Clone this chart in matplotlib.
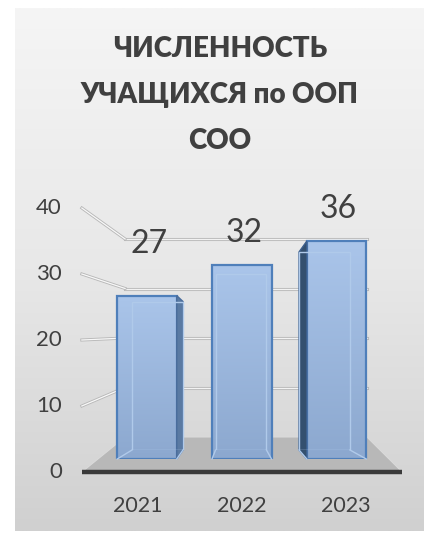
import numpy as np
import matplotlib
matplotlib.use('Agg')
import matplotlib.pyplot as plt
from matplotlib.patches import Polygon
from matplotlib.colors import LinearSegmentedColormap
from matplotlib.transforms import IdentityTransform, ScaledTranslation

plt.rcParams['font.family'] = ['Lato', 'DejaVu Sans']

# data
years = ['2021', '2022', '2023']
students = [27, 32, 36]
yticks = [0, 10, 20, 30, 40]
title = 'ЧИСЛЕННОСТЬ\nУЧАЩИХСЯ по ООП\nСОО'

W, H = 424, 533
fig = plt.figure(figsize=(W / 100, H / 100), dpi=100)
fig.patch.set_facecolor('white')

# background gradient
bg = fig.add_axes([0, 0, 1, 1])
bg.set_xlim(0, W)
bg.set_ylim(H, 0)
bg.axis('off')
grad = np.linspace(0, 1, 256)[:, None]
bg.imshow(grad, cmap=LinearSegmentedColormap.from_list('g', ['#f5f5f5', '#e8e8e8', '#d0d0d0']),
          extent=(15, W, 531, 8), aspect='auto', zorder=0)


# one "depth plane" of the 3d chart: zero line (px from top), px per unit, x centre, x spacing
def plane(zero_y, scale, xc, spacing, half=1.55, z=1):
    left = xc - half * spacing
    ax = fig.add_axes([left / W, 1 - zero_y / H, 2 * half * spacing / W, 40 * scale / H], zorder=z)
    ax.set_xlim(1 - half, 1 + half)
    ax.set_ylim(0, 40)
    ax.patch.set_visible(False)
    for s in ax.spines.values():
        s.set_visible(False)
    ax.set_xticks([])
    ax.set_yticks([])
    return ax


def disp(ax, x, y):
    return ax.transData.transform((x, y))


back = plane(437, 4.95, 246, 78, half=1.55, z=1)
front = plane(472, 6.6, 242, 104, half=1.54, z=2)
bar_back = plane(450, 5.5, 241, 83.5, z=3)
bar_front = plane(459, 6.05, 241.75, 94.75, z=4)
bar_edges = plane(450, 5.5, 241, 83.5, z=5)

# floor
fl = [disp(front, 1 - 1.54, 0), disp(front, 1 + 1.54, 0), disp(back, 1 + 1.55, 0), disp(back, 1 - 1.55, 0)]
fig.add_artist(Polygon(fl, closed=True, facecolor='#b8b8b8', edgecolor='#dadada', lw=0.8,
                       transform=IdentityTransform(), zorder=1.5))
front.plot([1 - 1.54, 1 + 1.54], [0, 0], color='#3a3a3a', lw=3.2, solid_capstyle='butt', clip_on=False)

# back wall gridlines and left wall gridlines
for v in yticks[1:]:
    back.plot([1 - 1.55, 1 + 1.55], [v, v], color='#b8b8b8', lw=2.2, clip_on=False)
    back.plot([1 - 1.55, 1 + 1.55], [v, v], color='#f2f2f2', lw=0.9, clip_on=False)
    p0 = disp(front, 1 - 1.54, v)
    p1 = disp(back, 1 - 1.55, v)
    for c, lw in (('#b8b8b8', 2.2), ('#f8f8f8', 0.9)):
        fig.add_artist(plt.Line2D([p0[0], p1[0]], [p0[1], p1[1]], color=c, lw=lw,
                                  transform=IdentityTransform(), zorder=1.6))

# bars
x = np.arange(len(years))
wf, wb = 0.628, 0.61
bar_cmap = LinearSegmentedColormap.from_list('b', ['#aac5ea', '#8ca8cf'])
bars = bar_front.bar(x, students, width=wf, color='none', edgecolor='#4f7fba', lw=1.6, zorder=3)
for b in bars:
    im = bar_front.imshow(grad, cmap=bar_cmap, aspect='auto', zorder=2,
                          extent=(b.get_x(), b.get_x() + b.get_width(), 0, b.get_height()))
    im.set_clip_path(b)
bar_front.set_xlim(1 - 1.55, 1 + 1.55)
bar_front.set_ylim(0, 40)
bar_edges.bar(x, students, width=wb, fill=False, edgecolor='#b0caea', lw=1.0)
for i, v in enumerate(students):
    fbl = disp(bar_front, i - wf / 2, 0)
    ftr = disp(bar_front, i + wf / 2, v)
    bbl = disp(bar_back, i - wb / 2, 0)
    btr = disp(bar_back, i + wb / 2, v)
    for c0, c1 in ((fbl, bbl), (np.array([ftr[0], fbl[1]]), np.array([btr[0], bbl[1]]))):
        fig.add_artist(plt.Line2D([c0[0], c1[0]], [c0[1], c1[1]], color='#b0caea', lw=1.0,
                                  transform=IdentityTransform(), zorder=4.6))
    if btr[0] > ftr[0] + 1:
        pts = [(ftr[0], fbl[1]), (ftr[0], ftr[1]), (btr[0], btr[1]), (btr[0], bbl[1])]
        fig.add_artist(Polygon(pts, closed=True, facecolor='#5a7aa3', edgecolor='#4a6d9c', lw=1,
                               transform=IdentityTransform(), zorder=4.5))
    if bbl[0] < fbl[0] - 1:
        pts = [(fbl[0], fbl[1]), (fbl[0], ftr[1]), (bbl[0], btr[1]), (bbl[0], bbl[1])]
        fig.add_artist(Polygon(pts, closed=True, facecolor='#34506f', edgecolor='#3d5f8c', lw=1,
                               transform=IdentityTransform(), zorder=4.5))

# data labels
label_dy = [8.6, 5.4, 5.3]
for i, v in enumerate(students):
    bar_front.text(i + 0.02, v + label_dy[i], str(v), ha='center', va='center',
                   fontsize=23, color='#404040', clip_on=False)

# axis labels on the front plane
for v in yticks:
    front.text(1 - 1.54, v, str(v), ha='right', va='center', fontsize=16, color='#404040',
               transform=front.transData + ScaledTranslation(-20 / 100, 0, fig.dpi_scale_trans))
front.set_xticks(x)
front.set_xticklabels(years, fontsize=15.5, color='#404040')
front.tick_params(axis='x', length=0, pad=17)

fig.text(220 / W, 1 - 95 / H, title, ha='center', va='center', fontsize=20, fontweight='heavy',
         color='#404040', linespacing=1.94)

fig.savefig('out.png', dpi=100)
